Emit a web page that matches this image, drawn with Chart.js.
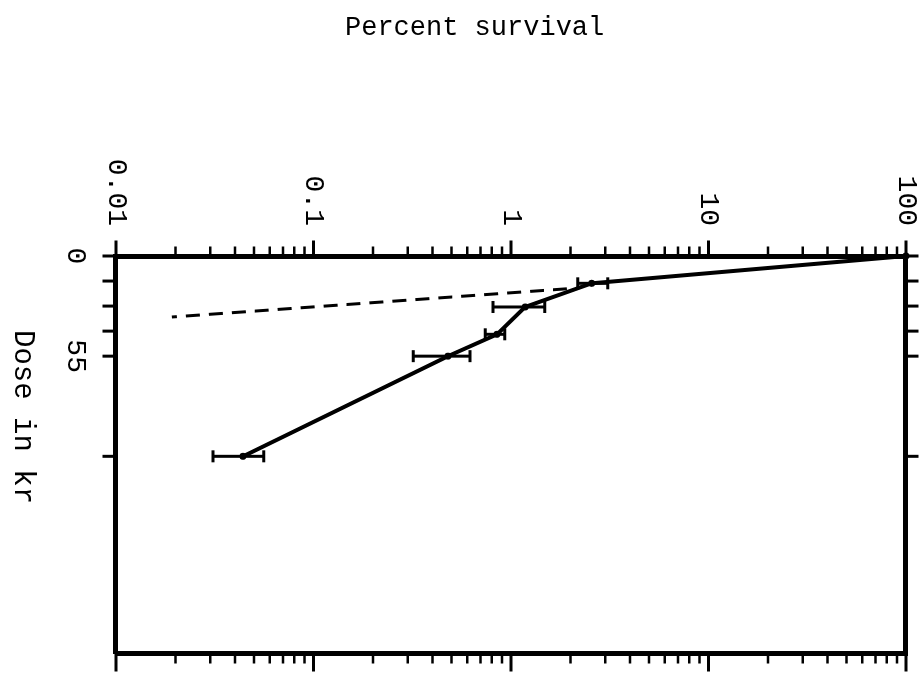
<!DOCTYPE html>
<html>
<head>
<meta charset="utf-8">
<script src="https://cdn.jsdelivr.net/npm/chart.js@4.4.1/dist/chart.umd.min.js"></script>
<style>
  html, body { margin: 0; padding: 0; background: #fff; overflow: hidden; }
  body { width: 921px; height: 676px; position: relative; }
  /* the chart is laid out dose-horizontal, then turned a quarter turn clockwise */
  #plot { position: absolute; left: 0; top: 0; width: 676px; height: 921px;
          transform-origin: 0 0; transform: translateX(921px) rotate(90deg); }
  .axis-name { position: absolute; font-family: "Liberation Mono", monospace;
               font-size: 27px; line-height: 27px; color: #000; white-space: nowrap; }
  #survivalName { left: 345px; top: 15px; }
  #doseName { left: 4px; top: 330px; font-size: 29px; line-height: 36px; writing-mode: vertical-rl; }
</style>
</head>
<body>
<div id="plot"><canvas id="survivalChart" width="676" height="921"></canvas></div>
<div class="axis-name" id="survivalName">Percent survival</div>
<div class="axis-name" id="doseName">Dose in kr</div>
<script>
// survival curve, dose in kr vs percent survival
const doses = [0, 15, 28, 43, 55, 110];
const survival = [100, 2.56, 1.18, 0.85, 0.48, 0.044];
const survivalLow = [null, 2.18, 0.81, 0.74, 0.32, 0.031];
const survivalHigh = [null, 3.09, 1.48, 0.93, 0.62, 0.056];

// dashed extrapolation of the steep initial part
const extrapDoses = [18, 33.5];
const extrapSurvival = [1.92, 0.0192];

// axis ticks
const doseTicks = [0, 13.75, 27.5, 41.25, 55, 110];
const doseTickLabels = ["0", "", "", "", "55", ""];
const decadeLabels = ["0.01", "0.1", "1", "10", "100"];

const DOSE_MAX = 218;
const FONT = { family: "Liberation Mono", size: 28 };

// 1..9 per decade between 0.01 and 100
const logTicks = [];
for (let e = -2; e <= 1; e++) {
  for (let m = 1; m <= 9; m++) logTicks.push(+(m * Math.pow(10, e)).toPrecision(3));
}
logTicks.push(100);

function isDecade(v) {
  const l = Math.log10(v);
  return Math.abs(l - Math.round(l)) < 1e-6;
}

const errorBars = {
  id: "errorBars",
  afterDatasetsDraw(chart) {
    const { ctx, scales: { x, y } } = chart;
    ctx.save();
    ctx.strokeStyle = "#000";
    ctx.lineWidth = 3;
    ctx.lineCap = "butt";
    doses.forEach((d, i) => {
      if (survivalLow[i] == null) return;
      const px = x.getPixelForValue(d);
      const lo = y.getPixelForValue(survivalLow[i]);
      const hi = y.getPixelForValue(survivalHigh[i]);
      ctx.beginPath();
      ctx.moveTo(px, lo); ctx.lineTo(px, hi);
      ctx.moveTo(px - 6, lo); ctx.lineTo(px + 6, lo);
      ctx.moveTo(px - 6, hi); ctx.lineTo(px + 6, hi);
      ctx.stroke();
    });
    ctx.restore();
  }
};

// outward tick marks on all four sides of the frame
const edgeTicks = {
  id: "edgeTicks",
  afterDraw(chart) {
    const { ctx, chartArea: a, scales: { x, y } } = chart;
    const half = 2.5;
    ctx.save();
    ctx.strokeStyle = "#000";
    logTicks.forEach(v => {
      const py = y.getPixelForValue(v);
      const major = isDecade(v);
      ctx.lineWidth = major ? 3 : 2.5;
      const inner = major ? 13 : 7;
      const outer = major ? 16 : 8;
      ctx.beginPath();
      ctx.moveTo(a.left, py); ctx.lineTo(a.left - half - inner, py);
      ctx.moveTo(a.right, py); ctx.lineTo(a.right + half + outer, py);
      ctx.stroke();
    });
    ctx.lineWidth = 3;
    doseTicks.forEach(d => {
      const px = x.getPixelForValue(d);
      ctx.beginPath();
      ctx.moveTo(px, a.bottom); ctx.lineTo(px, a.bottom + half + 11);
      ctx.moveTo(px, a.top); ctx.lineTo(px, a.top - half - 10);
      ctx.stroke();
    });
    ctx.restore();
  }
};

const quietGrid = { display: true, drawOnChartArea: false, drawTicks: false };
const frameBorder = { display: true, width: 5, color: "#000" };

// fixed axis sizes so the plot frame sits where it should
function fixWidth(w) {
  return s => { s.width = w; s.paddingTop = 0; s.paddingBottom = 0; };
}
function fixHeight(h) {
  return s => { s.height = h; s.paddingLeft = 0; s.paddingRight = 0; };
}

new Chart(document.getElementById("survivalChart").getContext("2d"), {
  type: "line",
  data: {
    datasets: [
      {
        data: doses.map((d, i) => ({ x: d, y: survival[i] })),
        borderColor: "#000",
        borderWidth: 4,
        pointRadius: 3.5,
        pointBackgroundColor: "#000",
        pointBorderWidth: 0,
        tension: 0,
        clip: 4
      },
      {
        data: extrapDoses.map((d, i) => ({ x: d, y: extrapSurvival[i] })),
        borderColor: "#000",
        borderWidth: 3,
        borderDash: [14, 9],
        pointRadius: 0,
        tension: 0
      }
    ]
  },
  options: {
    responsive: false,
    animation: false,
    layout: { padding: 0 },
    plugins: { legend: { display: false }, tooltip: { enabled: false } },
    scales: {
      x: {
        type: "linear", position: "bottom", min: 0, max: DOSE_MAX,
        afterBuildTicks: s => { s.ticks = doseTicks.map(v => ({ value: v })); },
        afterFit: fixHeight(116),
        grid: quietGrid, border: frameBorder,
        ticks: {
          padding: 24, maxRotation: 0, autoSkip: false, color: "#000", font: FONT,
          callback: (v, i) => doseTickLabels[i]
        }
      },
      x2: {
        type: "linear", position: "top", min: 0, max: DOSE_MAX,
        afterFit: fixHeight(15),
        grid: quietGrid, border: frameBorder, ticks: { display: false }
      },
      y: {
        type: "logarithmic", position: "left", min: 0.01, max: 100,
        afterBuildTicks: s => { s.ticks = logTicks.map(v => ({ value: v })); },
        afterFit: fixWidth(256),
        grid: quietGrid, border: frameBorder,
        ticks: {
          padding: 30, autoSkip: false, color: "#000", font: FONT,
          callback: v => isDecade(v) ? decadeLabels[Math.round(Math.log10(v)) + 2] : ""
        }
      },
      y2: {
        type: "logarithmic", position: "right", min: 0.01, max: 100,
        afterFit: fixWidth(23),
        grid: quietGrid, border: frameBorder, ticks: { display: false }
      }
    }
  },
  plugins: [errorBars, edgeTicks]
});
</script>
</body>
</html>
